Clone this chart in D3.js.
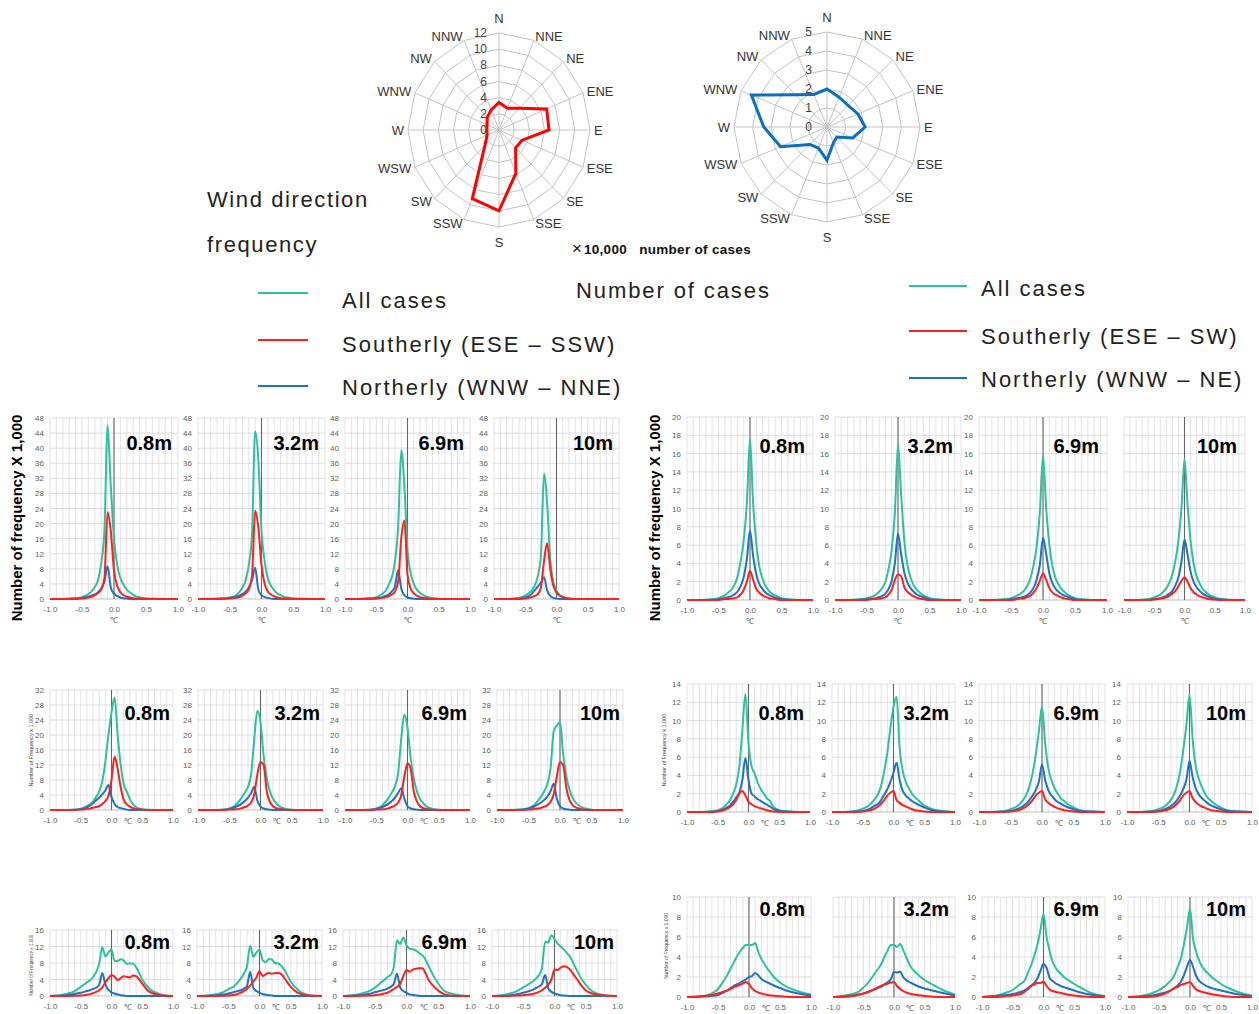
<!DOCTYPE html>
<html>
<head>
<meta charset="utf-8">
<script src="https://cdn.jsdelivr.net/npm/d3@7"></script>
<style>
  body { margin: 0; background: #fff; }
  svg text { font-family: "Liberation Sans", Arial, sans-serif; }
</style>
</head>
<body>
<svg id="chart" width="1259" height="1014"></svg>
<script>
// wind direction (radar) data, x 10,000 cases
const directions = ["N","NNE","NE","ENE","E","ESE","SE","SSE","S","SSW","SW","WSW","W","WNW","NW","NNW"];
const southerlyCases = [3.4, 2.9, 3.8, 6.8, 6.6, 3.3, 3.1, 5.8, 10.0, 9.2, 2.6, 1.7, 1.6, 1.7, 2.2, 2.7];
const northerlyCases = [2.0, 1.7, 1.6, 1.8, 2.05, 1.5, 0.75, 0.9, 1.75, 1.2, 1.3, 2.7, 3.4, 4.4, 2.4, 1.85];

// temperature difference bins (deg C)
const tempBins = [-1,-0.8,-0.6,-0.5,-0.4,-0.35,-0.3,-0.25,-0.2,-0.15,-0.1,-0.05,0,0.05,0.1,0.15,0.2,0.25,0.3,0.35,0.4,0.5,0.6,0.8,1];
const heights = ["0.8m", "3.2m", "6.9m", "10m"];
const xTicks = [-1, -0.5, 0, 0.5, 1];

// left group (x 1,000)
const leftRow1All = [
  [0,0,0.2,0.5,1.3,2,3.2,5,9.5,18,46,30,16,9,5.5,3.8,2.5,1.7,1.1,0.7,0.5,0.2,0.1,0,0],
  [0,0,0.2,0.4,1,1.8,3,5,9,17,44.5,37,18,10,5.5,3.5,2.3,1.5,1,0.6,0.4,0.2,0.1,0,0],
  [0,0,0.2,0.5,1.4,2.2,3.8,5.8,10,19,39.5,30,13,7,4,2.5,1.6,1,0.6,0.4,0.3,0.1,0,0,0],
  [0,0,0.3,0.9,2.2,3.5,6,11.3,33.2,25.5,10.5,4.4,2.2,1.1,0.6,0.3,0.2,0.1,0,0,0,0,0,0,0]
];
const leftRow1South = [
  [0,0,0,0.1,0.4,0.6,1,1.6,2.5,5.5,23,18,7.5,3.5,1.8,1,0.6,0.4,0.2,0.1,0.1,0,0,0,0],
  [0,0,0,0.1,0.3,0.5,0.9,1.5,2.6,6,23.4,19,9,4,2,1.2,0.7,0.4,0.2,0.1,0.1,0,0,0,0],
  [0,0,0,0.1,0.3,0.5,0.8,1.2,2,4.5,16,20.8,6.5,2.8,1.5,0.9,0.5,0.3,0.2,0.1,0,0,0,0,0],
  [0,0,0,0.1,0.5,0.8,1.3,3,10,14.8,8,3.5,1.7,0.9,0.5,0.3,0.1,0,0,0,0,0,0,0,0]
];
const leftRow1North = [
  [0,0,0.1,0.3,0.6,0.9,1.2,1.8,2.8,4.6,8.7,3,1.4,0.8,0.4,0.2,0.1,0,0,0,0,0,0,0,0],
  [0,0,0.1,0.3,0.6,0.9,1.3,2,3,5,8.3,2.5,1,0.5,0.3,0.1,0,0,0,0,0,0,0,0,0],
  [0,0,0.1,0.2,0.5,0.8,1.2,2,3.4,7.6,2.8,1,0.4,0.2,0.1,0,0,0,0,0,0,0,0,0,0],
  [0,0,0.1,0.4,1.3,2.3,3.3,4.3,5.8,2.3,0.8,0.3,0.1,0,0,0,0,0,0,0,0,0,0,0,0]
];
const leftRow2All = [
  [0,0,0.1,0.3,1,1.5,2.3,3.5,4.9,7.6,12.9,20,26,30,20,12,6.8,4.9,2.9,1.5,0.8,0.2,0.05,0,0],
  [0,0,0.1,0.4,1.3,2.2,3.3,4.7,6.2,9.5,19,26.5,23.5,14.5,8.5,5,3,1.8,1,0.6,0.3,0.1,0,0,0],
  [0,0,0.1,0.4,1.3,2.2,3.3,4.7,6.3,9.8,19,25.5,22,14,8.5,5,3,1.8,1,0.6,0.3,0.1,0,0,0],
  [0,0,0.2,0.5,1.5,2.5,3.6,5,7,11,21,22.5,23.5,15,9,5.5,3.3,2,1.2,0.7,0.4,0.1,0,0,0]
];
const leftRow2South = [
  [0,0,0,0.1,0.3,0.4,0.6,0.8,1,1.6,2.4,3.8,8,14.2,11,6,2.7,1.5,0.9,0.5,0.3,0.1,0,0,0],
  [0,0,0,0.1,0.2,0.3,0.5,0.8,1.2,2,4.2,9.5,12.8,12,5,2.2,1,0.5,0.3,0.2,0.1,0,0,0,0],
  [0,0,0,0.1,0.2,0.3,0.5,0.8,1.2,2,4,9,12.5,11,5,2.3,1,0.5,0.3,0.2,0.1,0,0,0,0],
  [0,0,0,0.1,0.3,0.4,0.6,0.9,1.3,2.2,4.2,9,12.8,12,6,2.7,1.3,0.7,0.4,0.2,0.1,0,0,0,0]
];
const leftRow2North = [
  [0,0,0.1,0.3,0.7,1.2,1.8,2.6,3.3,4.2,5.2,6.7,3.5,1.6,0.8,0.5,0.3,0.1,0,0,0,0,0,0,0],
  [0,0,0.1,0.3,0.8,1.2,1.7,2.4,3.3,4.5,6.2,2.5,0.9,0.4,0.2,0.1,0,0,0,0,0,0,0,0,0],
  [0,0,0.1,0.3,0.8,1.2,1.7,2.4,3.3,4.5,5.8,3,1,0.4,0.2,0.1,0,0,0,0,0,0,0,0,0],
  [0,0,0.1,0.4,1,1.5,2,2.7,3.6,5,7,3,1,0.4,0.2,0.1,0,0,0,0,0,0,0,0,0]
];
const leftRow3All = [
  [0,0.3,1.2,2.2,3.3,3.8,4.6,5.8,7.8,11.8,9.6,10.5,11.3,8.5,8.5,8.9,8.6,7.8,7.9,7.9,7,4,2,0.4,0],
  [0,0.2,0.8,1.6,2.5,3.3,4.2,5.4,7.2,12.2,9.5,10.5,11.3,8.7,8.2,9,8.8,8,7.9,7.3,6.3,3.5,1.7,0.2,0],
  [0,0.3,1.1,2,3.3,3.9,4.6,5.1,7,13.5,12.6,14.2,12.3,11.5,11.3,11,10.4,9.9,8.8,7.2,5.6,3,1.2,0.3,0],
  [0,0.3,1.2,2.1,3,3.5,4.2,5,6.8,13.2,13,14.7,13.8,12.7,12,11.3,10.4,9.5,8,6.5,5,2.7,1.2,0.2,0]
];
const leftRow3South = [
  [0,0,0.05,0.1,0.3,0.45,0.7,1,1.4,2.1,3.3,4.3,5.1,4.7,3.9,4.3,4.8,4.6,4.5,5,4.8,3,1.2,0.2,0],
  [0,0,0.05,0.1,0.3,0.5,0.8,1.2,1.7,2.5,3.5,4.5,6,4.8,5.3,5.6,5.4,5.6,5.6,5.3,4.3,2.2,0.9,0.1,0],
  [0,0,0.1,0.2,0.4,0.6,0.8,1.2,1.7,2.2,2.9,4.8,6.3,5.9,6.4,6.6,6.7,6.7,5.5,3.8,2.8,1.3,0.4,0,0],
  [0,0,0.1,0.2,0.35,0.5,0.7,1,1.4,2,2.7,4,6.4,6.3,6.9,7.2,7,6.4,5.3,4.3,3.2,1.4,0.6,0.1,0]
];
const leftRow3North = [
  [0,0.1,0.5,0.8,1.2,1.4,1.7,2,2.7,5.6,2.8,1.5,0.9,0.6,0.35,0.2,0.1,0,0,0,0,0,0,0,0],
  [0,0.05,0.3,0.6,1,1.2,1.4,1.8,2.4,5.9,2,1.2,0.8,0.5,0.3,0.2,0.1,0,0,0,0,0,0,0,0],
  [0,0.1,0.5,0.9,1.3,1.5,1.8,2.2,2.9,5.4,2.1,1.2,0.8,0.4,0.25,0.15,0.05,0,0,0,0,0,0,0,0],
  [0,0.05,0.4,0.8,1.2,1.5,1.9,2.3,2.9,5.1,1.9,1,0.6,0.35,0.2,0.1,0.05,0,0,0,0,0,0,0,0]
];

// right group (x 1,000)
const rightRow1All = [
  [0,0,0.1,0.2,0.5,0.8,1.1,1.6,2.5,4.2,6.5,10.5,17.6,10.5,6.2,3.6,2.3,1.5,1,0.7,0.5,0.2,0.1,0,0],
  [0,0,0.1,0.2,0.4,0.6,0.9,1.3,2,3.4,5.5,9.5,17,11.5,6.5,3.8,2.4,1.6,1.1,0.8,0.5,0.2,0.1,0,0],
  [0,0,0.1,0.2,0.5,0.7,1,1.5,2.3,3.7,5.8,9.5,15.8,10,6,3.6,2.3,1.6,1.1,0.8,0.5,0.2,0.1,0,0],
  [0,0,0.1,0.3,0.6,0.9,1.3,1.9,2.8,4.3,6.5,10,15.4,10.5,6.5,4,2.6,1.8,1.2,0.9,0.6,0.3,0.1,0,0]
];
const rightRow1South = [
  [0,0,0,0,0.1,0.1,0.15,0.2,0.3,0.6,1.1,2,3.2,2.2,1.2,0.8,0.5,0.35,0.2,0.15,0.1,0,0,0,0],
  [0,0,0,0,0.1,0.1,0.15,0.2,0.3,0.6,1.1,2.2,2.8,2.6,1.4,0.9,0.6,0.4,0.25,0.15,0.1,0,0,0,0],
  [0,0,0,0,0.1,0.15,0.2,0.3,0.45,0.8,1.3,2.1,2.9,2.2,1.3,0.8,0.55,0.4,0.25,0.15,0.1,0,0,0,0],
  [0,0,0,0.05,0.15,0.2,0.3,0.45,0.7,1,1.5,2.1,2.5,2,1.3,0.85,0.6,0.4,0.3,0.2,0.1,0.05,0,0,0]
];
const rightRow1North = [
  [0,0,0,0.1,0.2,0.3,0.4,0.6,0.9,1.5,2.5,4.5,7.6,4.8,2.8,1.7,1.2,0.8,0.55,0.4,0.25,0.1,0,0,0],
  [0,0,0,0.1,0.15,0.2,0.3,0.45,0.7,1.2,2.1,4,7.3,5,3,1.9,1.3,0.9,0.6,0.45,0.3,0.1,0,0,0],
  [0,0,0,0.1,0.2,0.25,0.35,0.5,0.8,1.3,2.2,3.8,6.8,5,2.9,1.8,1.2,0.85,0.6,0.45,0.3,0.1,0,0,0],
  [0,0,0,0.1,0.2,0.3,0.45,0.7,1,1.6,2.5,4.2,6.6,5,3.1,2,1.4,1,0.7,0.5,0.35,0.15,0.05,0,0]
];
const rightRow2All = [
  [0,0,0.1,0.2,0.55,0.9,1.3,2,3,4.9,8.9,12.9,7.5,5,4.2,3.2,2.5,2,1.5,1.2,0.6,0.2,0.1,0,0],
  [0,0,0.15,0.35,0.7,1.05,1.45,2,2.9,4.5,6.5,9.2,11.5,12.6,7,4.5,3.3,2.6,2,1.6,1.3,0.7,0.4,0.1,0],
  [0,0,0.1,0.3,0.6,0.9,1.3,1.9,2.8,4.2,6.2,8.8,11.5,7.5,4.8,3.5,2.6,2,1.5,1.2,0.9,0.5,0.2,0.05,0],
  [0,0,0.1,0.3,0.6,0.9,1.3,1.9,2.9,4.4,6.8,9.5,12.8,8,5,3.6,2.7,2,1.5,1.2,0.9,0.5,0.2,0.05,0]
];
const rightRow2South = [
  [0,0,0,0.05,0.2,0.35,0.55,0.85,1.3,2,2.3,1.8,1.1,0.85,0.65,0.5,0.4,0.3,0.2,0.1,0.05,0,0,0,0],
  [0,0,0,0.05,0.15,0.25,0.4,0.6,0.9,1.3,1.8,2.1,2.3,1.3,1,0.75,0.6,0.45,0.3,0.2,0.15,0.05,0,0,0],
  [0,0,0,0.05,0.15,0.25,0.4,0.6,0.9,1.3,1.8,2.1,2.3,1.4,1,0.75,0.55,0.4,0.3,0.2,0.15,0.05,0,0,0],
  [0,0,0,0.05,0.15,0.25,0.4,0.6,0.9,1.3,1.8,2.1,2.3,1.5,1.1,0.8,0.6,0.45,0.3,0.2,0.15,0.05,0,0,0]
];
const rightRow2North = [
  [0,0,0,0.1,0.3,0.5,0.7,1.1,1.6,2.1,3.5,5.9,3.5,2,1.7,1.4,1.2,1,0.8,0.6,0.35,0.15,0.05,0,0],
  [0,0,0.05,0.1,0.3,0.5,0.7,0.9,1.3,1.9,2.5,3.3,4.3,5.4,3.5,2.3,1.8,1.5,1.2,1,0.8,0.5,0.25,0.05,0],
  [0,0,0.05,0.1,0.3,0.45,0.65,0.9,1.3,1.8,2.4,3.3,5.2,3.5,2.4,1.8,1.4,1.1,0.9,0.7,0.55,0.3,0.15,0.05,0],
  [0,0,0.05,0.1,0.3,0.45,0.65,0.9,1.3,1.8,2.5,3.5,5.6,3.8,2.6,1.9,1.5,1.2,0.9,0.7,0.55,0.3,0.15,0.05,0]
];
const rightRow3All = [
  [0,0.05,0.35,0.8,1.7,2.2,2.8,3.4,4,4.5,4.9,5.2,5.2,5.2,5.4,4.5,3.8,3.3,2.8,2.4,2,1.45,1.05,0.55,0.25],
  [0,0.15,0.45,0.95,1.6,2.05,2.5,2.9,3.4,4.1,4.7,5.2,5.2,5,5.3,4.7,4,3.3,2.8,2.5,2.2,1.7,1.35,0.7,0.25],
  [0,0.1,0.45,0.7,1.2,1.4,1.7,2.5,3.2,4.1,5.2,6.7,8.3,6,4.6,3.5,2.9,2.5,2.2,1.9,1.7,1.3,0.95,0.35,0.1],
  [0,0.1,0.4,0.7,1.1,1.4,1.7,2.2,3,3.8,5.2,6.9,8.8,5.8,4.5,3.6,3,2.6,2.3,2,1.75,1.3,0.95,0.45,0.15]
];
const rightRow3South = [
  [0,0.05,0.2,0.35,0.55,0.65,0.8,0.95,1.1,1.2,1.35,1.5,1.3,0.85,0.6,0.45,0.35,0.27,0.2,0.15,0.12,0.07,0.03,0,0],
  [0,0.05,0.2,0.35,0.55,0.7,0.85,1,1.15,1.25,1.35,1.45,1.5,1.1,0.8,0.6,0.45,0.35,0.28,0.22,0.17,0.1,0.05,0,0],
  [0,0,0.1,0.15,0.25,0.35,0.55,0.8,1.1,1.25,1.4,1.4,1.55,1.1,0.75,0.6,0.5,0.45,0.38,0.3,0.22,0.15,0.07,0,0],
  [0,0,0.05,0.15,0.35,0.5,0.7,0.9,1,1.2,1.3,1.4,1.5,1.1,0.75,0.6,0.5,0.42,0.35,0.28,0.22,0.12,0.05,0,0]
];
const rightRow3North = [
  [0,0.05,0.1,0.2,0.5,0.65,0.9,1.1,1.25,1.4,1.6,1.75,2,2.1,2.4,2.15,1.8,1.6,1.45,1.3,1.15,0.9,0.65,0.35,0.15],
  [0,0.05,0.2,0.35,0.55,0.7,0.8,0.95,1.05,1.3,1.5,1.8,2.5,2.45,2.55,2,1.7,1.5,1.35,1.2,1.05,0.85,0.7,0.4,0.15],
  [0,0.1,0.2,0.3,0.45,0.55,0.7,0.9,1.15,1.4,1.85,2.6,3.3,2.9,1.9,1.6,1.35,1.2,1.05,0.95,0.85,0.65,0.45,0.2,0.05],
  [0,0.05,0.15,0.3,0.45,0.55,0.7,0.9,1.15,1.5,2.15,3,3.7,3,2.1,1.6,1.35,1.15,1,0.9,0.8,0.65,0.5,0.25,0.08]
];

const colors = { all: "#2bc29c", south: "#ff1f1f", north: "#1f72c4" };

const svg = d3.select("#chart");

// ---------- radar charts ----------
function drawRadar(cx, cy, rx, ry, maxV, step, values, color, tickDx) {
  const g = svg.append("g");
  const n = directions.length;
  const r = d3.scaleLinear().domain([0, maxV]).range([0, 1]);
  const pt = (i, v) => {
    const a = i * 2 * Math.PI / n;
    return [cx + Math.sin(a) * rx * r(v), cy - Math.cos(a) * ry * r(v)];
  };
  const rings = d3.range(step, maxV + step / 2, step);
  g.selectAll(".ring").data(rings).join("polygon")
    .attr("points", v => directions.map((d, i) => pt(i, v).join(",")).join(" "))
    .attr("fill", "none").attr("stroke", "#c4c4c4").attr("stroke-width", 1);
  g.selectAll(".spoke").data(directions).join("line")
    .attr("x1", cx).attr("y1", cy)
    .attr("x2", (d, i) => pt(i, maxV)[0]).attr("y2", (d, i) => pt(i, maxV)[1])
    .attr("stroke", "#c4c4c4").attr("stroke-width", 1);
  g.selectAll(".dir").data(directions).join("text")
    .attr("x", (d, i) => cx + Math.sin(i * 2 * Math.PI / n) * (rx + 4))
    .attr("y", (d, i) => {
      const a = i * 2 * Math.PI / n;
      const extra = Math.abs(Math.sin(a)) < 0.1 ? 15 : 4;
      return cy - Math.cos(a) * (ry + extra);
    })
    .attr("text-anchor", (d, i) => {
      const s = Math.sin(i * 2 * Math.PI / n);
      return s > 0.1 ? "start" : (s < -0.1 ? "end" : "middle");
    })
    .attr("dominant-baseline", "central")
    .attr("font-size", 13).attr("fill", "#333")
    .text(d => d);
  g.selectAll(".rv").data(d3.range(0, maxV + step / 2, step)).join("text")
    .attr("x", cx - tickDx).attr("y", v => cy - ry * r(v))
    .attr("text-anchor", "end").attr("dominant-baseline", "central")
    .attr("font-size", 12).attr("fill", "#444")
    .text(d => d);
  g.append("polygon")
    .attr("points", values.map((v, i) => pt(i, v).join(",")).join(" "))
    .attr("fill", "none").attr("stroke", color).attr("stroke-width", 3)
    .attr("stroke-linejoin", "miter");
}
drawRadar(499, 130, 91, 97, 12, 2, southerlyCases, "#ff0000", 12);
drawRadar(827, 127, 93, 95, 5, 1, northerlyCases, "#0a6fc2", 15);

// ---------- headings and legends ----------
const bigText = (x, y, t, extra) => svg.append("text").attr("x", x).attr("y", y)
  .attr("font-size", 22).attr("letter-spacing", extra).attr("fill", "#222").text(t);
bigText(207, 207, "Wind direction", 1.6);
bigText(207, 252, "frequency", 1.6);
bigText(576, 298, "Number of cases", 1.9);

const unitLabel = svg.append("text").attr("x", 572).attr("y", 254).attr("fill", "#111");
unitLabel.append("tspan").attr("font-size", 17).text("×");
unitLabel.append("tspan").attr("dx", 2).attr("font-size", 13.5).attr("font-weight", "bold")
  .attr("letter-spacing", 0.3).text("10,000\u00a0\u00a0 number of cases");

const legendLeft = ["All cases", "Southerly (ESE \u2013 SSW)", "Northerly (WNW \u2013 NNE)"];
const legendRight = ["All cases", "Southerly (ESE \u2013 SW)", "Northerly (WNW \u2013 NE)"];
const legendColors = [colors.all, colors.south, colors.north];
function drawLegend(labels, x1, x2, tx, ys, tys) {
  const g = svg.append("g");
  g.selectAll("line").data(labels).join("line")
    .attr("x1", x1).attr("x2", x2).attr("y1", (d, i) => ys[i]).attr("y2", (d, i) => ys[i])
    .attr("stroke", (d, i) => legendColors[i]).attr("stroke-width", 2);
  g.selectAll("text").data(labels).join("text")
    .attr("x", tx).attr("y", (d, i) => tys[i])
    .attr("font-size", 22).attr("letter-spacing", 2).attr("fill", "#222")
    .text(d => d);
}
drawLegend(legendLeft, 258, 308, 342, [293, 340, 386], [308, 352, 395]);
drawLegend(legendRight, 909, 967, 981, [286, 331, 378], [296, 344, 387]);

// ---------- small line charts ----------
const leftRows = [
  { all: leftRow1All, south: leftRow1South, north: leftRow1North, yMax: 48, step: 4 },
  { all: leftRow2All, south: leftRow2South, north: leftRow2North, yMax: 32, step: 4 },
  { all: leftRow3All, south: leftRow3South, north: leftRow3North, yMax: 16, step: 4 }
];
const rightRows = [
  { all: rightRow1All, south: rightRow1South, north: rightRow1North, yMax: 20, step: 2 },
  { all: rightRow2All, south: rightRow2South, north: rightRow2North, yMax: 14, step: 2 },
  { all: rightRow3All, south: rightRow3South, north: rightRow3North, yMax: 10, step: 2 }
];

// layout of the panels
const leftLayout = [
  { top: 418, bottom: 599, xs: [[50,178],[198,325],[345,470],[494,619]], labelDy: 32, labelDx: -6, unitBelow: true, clip: [] },
  { top: 690, bottom: 810, xs: [[50,173],[198,323],[345,470],[497,623]], labelDy: 30, labelDx: -3, unitBelow: false, clip: [] },
  { top: 930, bottom: 996, xs: [[50,173],[197,322],[343,470],[492,617]], labelDy: 19, labelDx: -3, unitBelow: false, clip: [] }
];
const rightLayout = [
  { top: 417, bottom: 600, xs: [[687,813],[835,961],[979,1107],[1124,1245]], labelDy: 36, labelDx: -8, unitBelow: true, clip: [null, null, null, 1114] },
  { top: 684, bottom: 812, xs: [[687,810],[832,955],[979,1105],[1127,1252]], labelDy: 36, labelDx: -6, unitBelow: false, clip: [] },
  { top: 897, bottom: 997, xs: [[687,811],[833,955],[982,1105],[1128,1252]], labelDy: 19, labelDx: -6, unitBelow: false, clip: [null, 829] }
];

let clipId = 0;
function drawPanel(lay, xr, row, p, clipX) {
  const x = d3.scaleLinear().domain([-1, 1]).range(xr);
  const y = d3.scaleLinear().domain([0, row.yMax]).range([lay.bottom, lay.top]);
  const g = svg.append("g");

  // grid
  g.append("g").selectAll("line").data(d3.range(-10, 11).map(i => i / 10)).join("line")
    .attr("x1", d => x(d)).attr("x2", d => x(d)).attr("y1", lay.top).attr("y2", lay.bottom)
    .attr("stroke", "#dcdcdc").attr("stroke-width", 0.8);
  const yTicks = d3.range(0, row.yMax + row.step / 2, row.step);
  g.append("g").selectAll("line").data(yTicks).join("line")
    .attr("x1", xr[0]).attr("x2", xr[1]).attr("y1", d => y(d)).attr("y2", d => y(d))
    .attr("stroke", d => d === 0 ? "#b0b0b0" : "#d6d6d6").attr("stroke-width", 0.8);
  g.append("line")
    .attr("x1", x(0)).attr("x2", x(0)).attr("y1", lay.top).attr("y2", lay.bottom)
    .attr("stroke", "#666").attr("stroke-width", 1.1);

  // y axis
  const ya = g.append("g").attr("transform", `translate(${xr[0]},0)`)
    .call(d3.axisLeft(y).tickValues(yTicks).tickSize(0).tickPadding(6));
  ya.select(".domain").remove();
  ya.selectAll("text").attr("font-size", 8).attr("fill", "#606060")
    .attr("font-family", "'Liberation Sans', Arial, sans-serif");
  if (clipX) {
    clipId++;
    svg.append("clipPath").attr("id", "cl" + clipId).append("rect")
      .attr("x", clipX).attr("y", lay.top - 10).attr("width", 200).attr("height", lay.bottom - lay.top + 20);
    ya.attr("clip-path", `url(#cl${clipId})`);
  }

  // x axis
  const xa = g.append("g").attr("transform", `translate(0,${lay.bottom})`)
    .call(d3.axisBottom(x).tickValues(xTicks).tickSize(0).tickPadding(7).tickFormat(d => d.toFixed(1)));
  xa.select(".domain").remove();
  xa.selectAll("text").attr("font-size", 8).attr("fill", "#606060")
    .attr("font-family", "'Liberation Sans', Arial, sans-serif");
  g.append("text")
    .attr("x", lay.unitBelow ? x(0) : x(0.27))
    .attr("y", lay.unitBelow ? lay.bottom + 24 : lay.bottom + 14)
    .attr("text-anchor", "middle").attr("font-size", 8).attr("fill", "#555")
    .text("\u2103");

  // curves
  const line = d3.line().x((d, i) => x(tempBins[i])).y(d => y(d)).curve(d3.curveMonotoneX);
  [["all", colors.all], ["north", colors.north], ["south", colors.south]].forEach(([k, c]) => {
    g.append("path").datum(row[k][p]).attr("d", line)
      .attr("fill", "none").attr("stroke", c).attr("stroke-width", 2)
      .attr("stroke-linejoin", "round");
  });

  // height label
  g.append("text").attr("x", xr[1] + lay.labelDx).attr("y", lay.top + lay.labelDy)
    .attr("text-anchor", "end").attr("font-size", 20).attr("font-weight", "bold")
    .attr("fill", "#000").text(heights[p]);
}

[[leftRows, leftLayout], [rightRows, rightLayout]].forEach(([rows, layout]) => {
  rows.forEach((row, r) => {
    layout[r].xs.forEach((xr, p) => drawPanel(layout[r], xr, row, p, layout[r].clip[p]));
  });
});

// y axis titles
function yTitle(x, y, size, bold, t) {
  svg.append("text").attr("transform", `translate(${x},${y}) rotate(-90)`)
    .attr("text-anchor", "middle").attr("font-size", size)
    .attr("font-weight", bold ? "bold" : "normal").attr("fill", bold ? "#000" : "#444")
    .text(t);
}
yTitle(22, 518, 15, true, "Number of frequency X 1,000");
yTitle(660, 518, 15, true, "Number of frequency X 1,000");
yTitle(33, 750, 5.5, false, "Number of Frequency x 1,000");
yTitle(666, 750, 5.5, false, "Number of Frequency x 1,000");
yTitle(33, 965, 4.6, false, "Number of Frequency x 1,000");
yTitle(668, 946, 5, false, "Number of Frequency x 1,000");
</script>
</body>
</html>
